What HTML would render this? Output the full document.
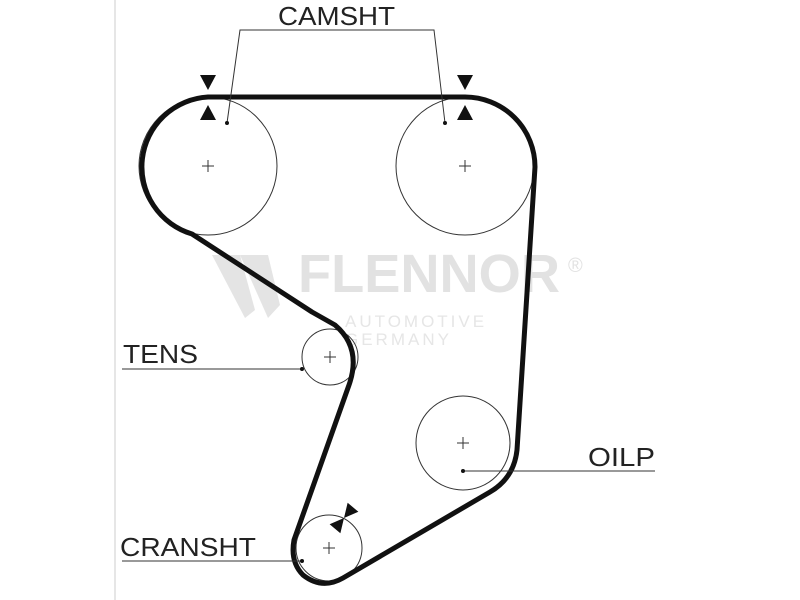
<!DOCTYPE html>
<html><head><style>body{margin:0;background:#fff}svg{display:block}</style></head><body>
<svg width="800" height="600" viewBox="0 0 800 600" xmlns="http://www.w3.org/2000/svg" font-family="Liberation Sans, sans-serif">
<rect width="800" height="600" fill="#fff"/>
<line x1="115" y1="0" x2="115" y2="600" stroke="#ddd" stroke-width="1.5"/>
<!-- watermark -->
<text x="298" y="292" font-size="54" font-weight="bold" fill="#e2e2e2" textLength="262" lengthAdjust="spacingAndGlyphs">FLENNOR</text>
<text x="568" y="272" font-size="20" fill="#e2e2e2">®</text>
<text x="345" y="327" font-size="17" fill="#e6e6e6" letter-spacing="3">AUTOMOTIVE</text>
<text x="345" y="345" font-size="17" fill="#e6e6e6" letter-spacing="3">GERMANY</text>
<polygon points="212,255 240,255 255,310 245,318" fill="#e4e4e4"/>
<polygon points="240,255 268,255 280,305 268,318" fill="#e4e4e4"/>
<!-- pulleys -->
<g fill="none" stroke="#333" stroke-width="1">
<circle cx="208" cy="166" r="69"/>
<circle cx="465" cy="166" r="69"/>
<circle cx="330" cy="357" r="28"/>
<circle cx="463" cy="443" r="47"/>
<circle cx="329" cy="548" r="33"/>
</g>
<g stroke="#333" stroke-width="1">
<path d="M202 166h12M208 160v12M459 166h12M465 160v12M324 357h12M330 351v12M457 443h12M463 437v12M323 548h12M329 542v12"/>
</g>
<!-- belt -->
<path d="M208 97 L465 97 A70 70 0 0 1 535 167 L517 450 Q514 478 490 492 L343 578 Q322 590 303 575 Q290 562 294 540 L349 385 Q362 348 335 325 L312 312 L192 234 A70 70 0 0 1 208 97 Z" fill="none" stroke="#111" stroke-width="5" stroke-linejoin="round"/>
<!-- markers -->
<g fill="#111">
<polygon points="200,75 216,75 208,90"/><polygon points="200,120 216,120 208,105"/>
<polygon points="457,75 473,75 465,90"/><polygon points="457,120 473,120 465,105"/>
<g transform="translate(344,518) rotate(40)"><polygon points="-7,-14 7,-14 0,0"/><polygon points="-7,14 7,14 0,0"/></g>
</g>
<!-- leaders -->
<g stroke="#333" stroke-width="1" fill="none">
<polyline points="227,123 240,30 434,30 445,123"/>
<line x1="122" y1="369" x2="302" y2="369"/>
<line x1="463" y1="471" x2="655" y2="471"/>
<line x1="122" y1="561" x2="302" y2="561"/>
</g>
<g fill="#111"><circle cx="227" cy="123" r="2"/><circle cx="445" cy="123" r="2"/><circle cx="302" cy="369" r="2"/><circle cx="463" cy="471" r="2"/><circle cx="302" cy="561" r="2"/></g>
<g font-size="26" fill="#222">
<text x="278" y="25" textLength="117" lengthAdjust="spacingAndGlyphs">CAMSHT</text>
<text x="123" y="363" textLength="75" lengthAdjust="spacingAndGlyphs">TENS</text>
<text x="588" y="466" textLength="67" lengthAdjust="spacingAndGlyphs">OILP</text>
<text x="120" y="556" textLength="136" lengthAdjust="spacingAndGlyphs">CRANSHT</text>
</g>
</svg>
</body></html>
